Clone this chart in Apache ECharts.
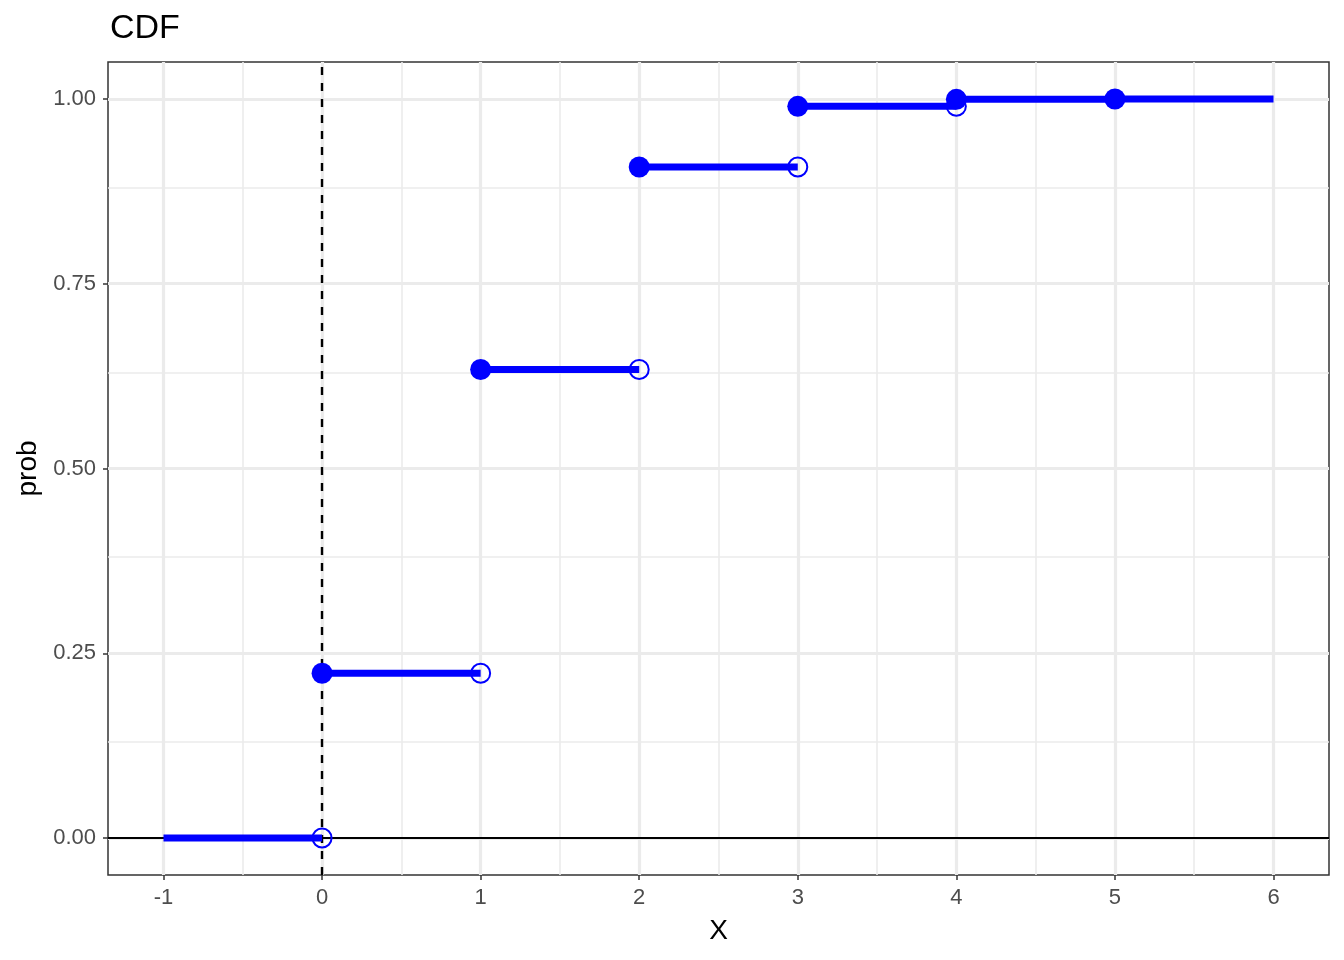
<!DOCTYPE html>
<html>
<head>
<meta charset="utf-8">
<script src="https://cdn.jsdelivr.net/npm/echarts@6/dist/echarts.min.js"></script>
<style>
html,body{margin:0;padding:0;background:#fff;}
#chart{width:1344px;height:960px;}
</style>
</head>
<body>
<div id="chart"></div>
<script>
// Support points of the distribution and CDF values
const xVals = [0, 1, 2, 3, 4, 5];
const cdfVals = [0.223, 0.634, 0.908, 0.990, 0.9995, 1.0];
const xStart = -1;   // CDF segment begins here at value 0
const xEnd = 6;      // last segment ends here
// Axis ticks
const xTicks = [-1, 0, 1, 2, 3, 4, 5, 6];
const xMinor = [-0.5, 0.5, 1.5, 2.5, 3.5, 4.5, 5.5];
const yTicks = [0, 0.25, 0.5, 0.75, 1.0];
const yMinor = [0.125, 0.375, 0.625, 0.875];
const xRange = [-1.35, 6.35];
const yRange = [-0.05, 1.05];

const BLUE = '#0000ff';
const FONT = '"Liberation Sans", Arial, Helvetica, sans-serif';

// segments: [x_k, x_{k+1}] at level F_{k}, plus initial zero segment
const segStarts = [xStart].concat(xVals);
const segEnds = xVals.concat([xEnd]);
const segLevels = [0].concat(cdfVals);

const series = [];
// grid lines (drawn via markLine from tick arrays)
function gridSeries(xs, ys, width, z) {
  return {
    type: 'line', data: [], z: z, silent: true,
    markLine: {
      z: z, silent: true, symbol: ['none', 'none'], animation: false,
      label: {show: false},
      lineStyle: {color: '#ebebeb', width: width, type: 'solid'},
      emphasis: {disabled: true},
      data: xs.map(v => ({xAxis: v})).concat(ys.map(v => ({yAxis: v})))
    }
  };
}
series.push(gridSeries(xMinor, yMinor, 1.6, 0));
series.push(gridSeries(xTicks, yTicks, 3.2, 0));
// reference lines
series.push({
  type: 'line', data: [], z: 1, silent: true,
  markLine: {
    z: 1, silent: true, symbol: ['none', 'none'], animation: false,
    label: {show: false}, emphasis: {disabled: true},
    data: [
      {xAxis: 0, lineStyle: {color: '#000', width: 2.4, type: [8, 8]}},
      {yAxis: 0, lineStyle: {color: '#000', width: 2.2, type: 'solid'}}
    ]
  }
});
// step segments
for (let i = 0; i < segStarts.length; i++) {
  series.push({
    type: 'line', z: 3, silent: true, showSymbol: false, symbol: 'none',
    lineStyle: {color: BLUE, width: 7, cap: 'butt'},
    data: [[segStarts[i], segLevels[i]], [segEnds[i], segLevels[i]]],
    animation: false
  });
}
// open circles (left limits)
series.push({
  type: 'scatter', z: 4, silent: true, symbol: 'circle', symbolSize: 19,
  itemStyle: {color: 'rgba(0,0,0,0)', borderColor: BLUE, borderWidth: 2, opacity: 1},
  data: xVals.slice(0, 5).map((x, i) => [x, segLevels[i]]),
  animation: false
});
// filled circles
series.push({
  type: 'scatter', z: 5, silent: true, symbol: 'circle', symbolSize: 21,
  itemStyle: {color: BLUE, opacity: 1},
  data: xVals.map((x, i) => [x, cdfVals[i]]),
  animation: false
});

const chart = echarts.init(document.getElementById('chart'), null, {renderer: 'canvas'});
chart.setOption({
  animation: false,
  backgroundColor: '#ffffff',
  title: {
    text: 'CDF', left: 105, top: 7,
    textStyle: {fontFamily: FONT, fontSize: 34, fontWeight: 'normal', color: '#000'}
  },
  grid: {
    left: 108, right: 15, top: 62, bottom: 85,
    show: true, borderColor: '#333333', borderWidth: 1.5, backgroundColor: 'transparent',
    containLabel: false
  },
  xAxis: {
    type: 'value', min: xRange[0], max: xRange[1],
    name: 'X', nameLocation: 'middle', nameGap: 42,
    nameTextStyle: {fontFamily: FONT, fontSize: 28, color: '#000'},
    axisLine: {show: false, onZero: false},
    axisTick: {show: true, length: 5, customValues: xTicks, lineStyle: {color: '#333333', width: 1.5}},
    axisLabel: {customValues: xTicks, fontFamily: FONT, fontSize: 22, color: '#4d4d4d', margin: 12,
      formatter: v => String(v)},
    splitLine: {show: false}
  },
  yAxis: {
    type: 'value', min: yRange[0], max: yRange[1],
    name: 'prob', nameLocation: 'middle', nameGap: 66, nameRotate: 90,
    nameTextStyle: {fontFamily: FONT, fontSize: 28, color: '#000'},
    axisLine: {show: false, onZero: false},
    axisTick: {show: true, length: 5, customValues: yTicks, lineStyle: {color: '#333333', width: 1.5}},
    axisLabel: {customValues: yTicks, fontFamily: FONT, fontSize: 22, color: '#4d4d4d', margin: 12,
      formatter: v => v.toFixed(2)},
    splitLine: {show: false}
  },
  series: series
});
</script>
</body>
</html>
